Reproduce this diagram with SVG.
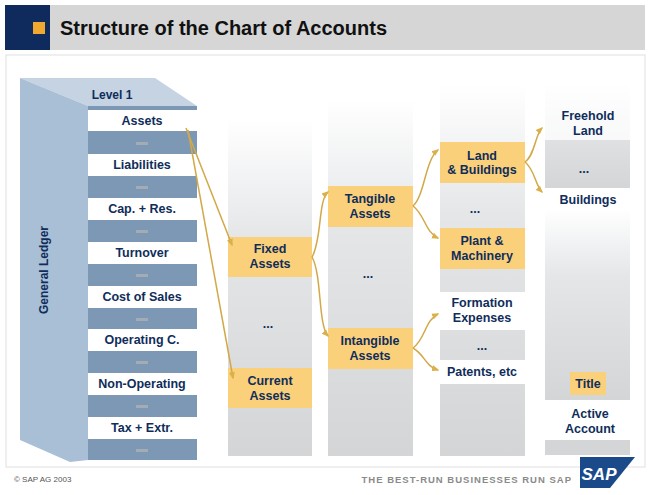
<svg xmlns="http://www.w3.org/2000/svg" width="651" height="495" viewBox="0 0 651 495">
<defs>
<linearGradient id="col" x1="0" y1="0" x2="0" y2="1"><stop offset="0" stop-color="#fff"/><stop offset="0.35" stop-color="#e4e6e8"/><stop offset="1" stop-color="#d3d5d7"/></linearGradient>
<marker id="ah" viewBox="0 0 10 10" refX="8" refY="5" markerWidth="5" markerHeight="5" orient="auto"><path d="M0,1 L10,5 L0,9 z" fill="#d9b04a"/></marker>
</defs>
<style>
text{font-family:"Liberation Sans",Arial,sans-serif;font-weight:bold;fill:#0f2d5a;text-anchor:middle}
.t{font-size:12.5px}
.or{fill:#fbd07a}
.wh{fill:#fff}
.band{fill:#7d98b4}
.dash{fill:#a3abb5}
.col{fill:url(#col)}
.c path,.c line{fill:none;stroke:#d2a848;stroke-width:1.5;marker-end:url(#ah)}
</style>
<rect width="651" height="495" fill="#fff"/>
<g id="header">
<rect x="5" y="5" width="640" height="45" fill="#d6d6d6"/>
<rect x="5" y="5" width="45" height="45" fill="#0f2a5c"/>
<rect x="33" y="22" width="12" height="12" fill="#f0a830"/>
<text x="60" y="35" style="font-size:20px;text-anchor:start;fill:#111">Structure of the Chart of Accounts</text>
</g>
<rect x="6" y="55" width="639" height="412" fill="#fff" stroke="#e0e0e0"/>
<g id="ledger">
<polygon points="20,78 155,78 197,106 88,106" fill="#c5d3e2"/>
<polygon points="20,78 88,106 88,460 70,462 20,440" fill="#a9bfd6"/>
<text x="112" y="99" class="t" style="font-size:12px">Level 1</text>
<text transform="translate(48,270) rotate(-90)" class="t" style="font-size:12px">General Ledger</text>
<rect x="88" y="106" width="109" height="354" class="band"/>
<rect x="88" y="110" width="109" height="21" class="wh"/>
<rect x="88" y="154" width="109" height="22" class="wh"/>
<rect x="88" y="198" width="109" height="22" class="wh"/>
<rect x="88" y="242" width="109" height="22" class="wh"/>
<rect x="88" y="286" width="109" height="22" class="wh"/>
<rect x="88" y="329" width="109" height="22" class="wh"/>
<rect x="88" y="373" width="109" height="22" class="wh"/>
<rect x="88" y="417" width="109" height="22" class="wh"/>
<g class="dash"><rect x="136" y="142" width="12" height="3"/><rect x="136" y="186" width="12" height="3"/><rect x="136" y="230" width="12" height="3"/><rect x="136" y="274" width="12" height="3"/><rect x="136" y="318" width="12" height="3"/><rect x="136" y="361" width="12" height="3"/><rect x="136" y="405" width="12" height="3"/><rect x="136" y="449" width="12" height="3"/></g>
<text x="142" y="125" class="t">Assets</text>
<text x="142" y="169" class="t">Liabilities</text>
<text x="142" y="213" class="t">Cap. + Res.</text>
<text x="142" y="257" class="t">Turnover</text>
<text x="142" y="301" class="t">Cost of Sales</text>
<text x="142" y="344" class="t">Operating C.</text>
<text x="142" y="388" class="t">Non-Operating</text>
<text x="142" y="432" class="t">Tax + Extr.</text>
</g>
<g id="level2">
<rect x="228" y="120" width="84" height="336" class="col"/>
<rect x="228" y="237" width="84" height="40" class="or"/>
<text x="270" y="253" class="t">Fixed</text><text x="270" y="268" class="t">Assets</text>
<text x="268" y="328" class="t">...</text>
<rect x="228" y="368" width="84" height="40" class="or"/>
<text x="270" y="385" class="t">Current</text><text x="270" y="400" class="t">Assets</text>
</g>
<g id="level3">
<rect x="328" y="100" width="85" height="356" class="col"/>
<rect x="328" y="186" width="85" height="41" class="or"/>
<text x="370" y="203" class="t">Tangible</text><text x="370" y="218" class="t">Assets</text>
<text x="368" y="278" class="t">...</text>
<rect x="328" y="328" width="85" height="41" class="or"/>
<text x="370" y="345" class="t">Intangible</text><text x="370" y="360" class="t">Assets</text>
</g>
<g id="level4">
<rect x="440" y="85" width="85" height="371" class="col"/>
<rect x="440" y="142" width="85" height="41" class="or"/>
<text x="482" y="160" class="t">Land</text><text x="482" y="174" class="t">&amp; Buildings</text>
<text x="475" y="213" class="t">...</text>
<rect x="440" y="228" width="85" height="41" class="or"/>
<text x="482" y="245" class="t">Plant &amp;</text><text x="482" y="260" class="t">Machinery</text>
<rect x="440" y="292" width="85" height="38" class="wh"/>
<text x="482" y="307" class="t">Formation</text><text x="482" y="322" class="t">Expenses</text>
<text x="482" y="350" class="t">...</text>
<rect x="440" y="360" width="85" height="24" class="wh"/>
<text x="482" y="376" class="t">Patents, etc</text>
</g>
<g id="level5">
<rect x="545" y="80" width="85" height="108" class="col"/>
<rect x="545" y="80" width="85" height="60" class="wh" opacity="0.8"/>
<text x="588" y="120" class="t">Freehold</text><text x="588" y="135" class="t">Land</text>
<text x="584" y="173" class="t">...</text>
<text x="588" y="204" class="t">Buildings</text>
<rect x="545" y="209" width="85" height="191" class="col"/>
<rect x="570" y="372" width="36" height="23" class="or"/>
<text x="588" y="388" class="t">Title</text>
<text x="590" y="418" class="t">Active</text><text x="590" y="433" class="t">Account</text>
<rect x="545" y="440" width="85" height="15" fill="#d3d5d7"/>
</g>
<g id="connectors" class="c">
<line x1="186" y1="128" x2="232" y2="245"/>
<line x1="188" y1="130" x2="233" y2="378"/>
<path d="M312,257 C322,240 318,200 328,192"/>
<path d="M312,257 C322,275 318,325 328,336"/>
<path d="M413,206 C425,195 425,160 438,150"/>
<path d="M413,206 C425,215 425,232 438,238"/>
<path d="M413,348 C425,340 425,320 438,314"/>
<path d="M413,348 C425,355 425,366 438,370"/>
<path d="M525,162 C535,155 535,135 542,128"/>
<path d="M525,162 C535,170 535,185 542,192"/>
</g>
<g id="footer">
<text x="14" y="482" style="font-size:8px;font-weight:normal;fill:#555;text-anchor:start">©  SAP AG 2003</text>
<text x="572" y="483" style="font-size:9.5px;fill:#8a8a8a;letter-spacing:1px;text-anchor:end">THE BEST-RUN BUSINESSES RUN SAP</text>
<polygon points="580,457 635,457 610,488 580,488" fill="#1a4a8a"/>
<text x="599" y="480" style="font-size:17px;fill:#fff;font-style:italic">SAP</text>
</g>
</svg>
